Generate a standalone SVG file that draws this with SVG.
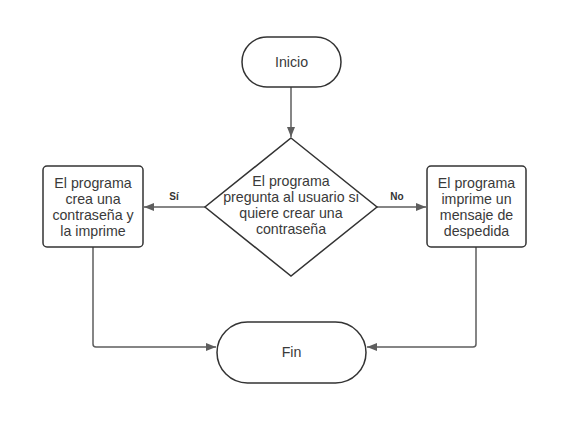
<svg xmlns="http://www.w3.org/2000/svg" width="562" height="427" viewBox="0 0 562 427">
<style>
.n{fill:#fff;stroke:#333;stroke-width:1.5}
.t{font-family:"Liberation Sans",Arial,sans-serif;font-size:14.2px;fill:#3a3a3a;text-anchor:middle}
.l{font-family:"Liberation Sans",Arial,sans-serif;font-size:10px;font-weight:bold;fill:#333;text-anchor:middle}
.c{fill:none;stroke:#5e5e5e;stroke-width:1.5}
</style>
<defs>
<marker id="a" viewBox="0 0 10 8" refX="10" refY="4" markerWidth="10" markerHeight="8" markerUnits="userSpaceOnUse" orient="auto">
<path d="M0,0 L10,4 L0,8 Z" fill="#5e5e5e"/>
</marker>
</defs>
<rect width="562" height="427" fill="#fff"/>
<g id="connectors">
<path class="c" d="M291,87 V137" marker-end="url(#a)"/>
<path class="c" d="M205,207 H144" marker-end="url(#a)"/>
<path class="c" d="M377,207 H426" marker-end="url(#a)"/>
<path class="c" d="M93,247 V344 Q93,347 96,347 H216" marker-end="url(#a)"/>
<path class="c" d="M476,247 V344 Q476,347 473,347 H367" marker-end="url(#a)"/>
<text class="l" x="174" y="200">Sí</text>
<text class="l" x="397" y="200">No</text>
</g>
<g id="inicio">
<rect class="n" x="242" y="37" width="99" height="50" rx="25"/>
<text class="t" x="291.5" y="67">Inicio</text>
</g>
<g id="decision">
<path class="n" d="M291,138 L377,207 L291,276 L205,207 Z"/>
<text class="t" x="291" y="186">El programa</text>
<text class="t" x="291" y="202">pregunta al usuario si</text>
<text class="t" x="291" y="218">quiere crear una</text>
<text class="t" x="291" y="234">contraseña</text>
</g>
<g id="crear">
<rect class="n" x="43" y="166" width="100" height="81" rx="4"/>
<text class="t" x="93" y="188">El programa</text>
<text class="t" x="93" y="204">crea una</text>
<text class="t" x="93" y="220">contraseña y</text>
<text class="t" x="93" y="236">la imprime</text>
</g>
<g id="despedida">
<rect class="n" x="427" y="166" width="99" height="81" rx="4"/>
<text class="t" x="476.5" y="188">El programa</text>
<text class="t" x="476.5" y="204">imprime un</text>
<text class="t" x="476.5" y="220">mensaje de</text>
<text class="t" x="476.5" y="236">despedida</text>
</g>
<g id="fin">
<rect class="n" x="217" y="322" width="149" height="61" rx="30.5"/>
<text class="t" x="291.5" y="357">Fin</text>
</g>
</svg>
